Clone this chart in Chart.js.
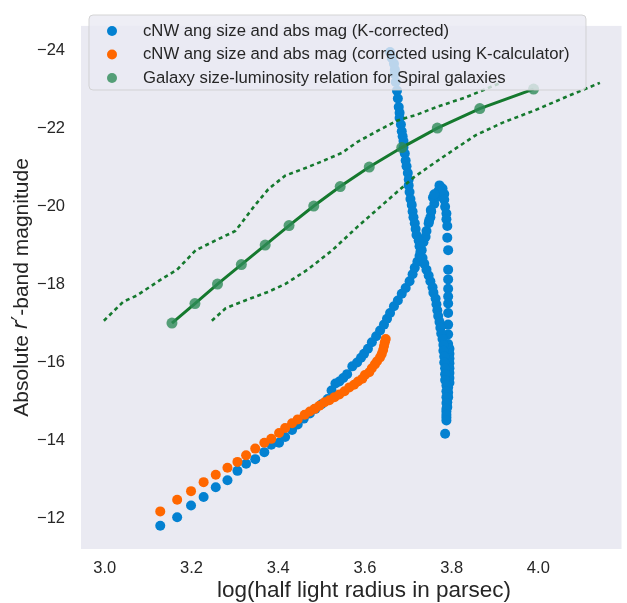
<!DOCTYPE html>
<html>
<head>
<meta charset="utf-8">
<script src="https://cdn.jsdelivr.net/npm/chart.js@4.4.0/dist/chart.umd.min.js"></script>
<style>
html, body { margin: 0; padding: 0; background: #fff; overflow: hidden; }
</style>
</head>
<body>
<canvas id="chart" width="627" height="603"></canvas>
<script>
const xTicks = [3.0, 3.2, 3.4, 3.6, 3.8, 4.0];
const yTicks = [-24, -22, -20, -18, -16, -14, -12];

// cNW ang size and abs mag (K-corrected)
const blueLogR = [
    3.128, 3.167, 3.199, 3.228, 3.256, 3.283, 3.306, 3.326, 3.347, 3.368, 3.384, 3.402, 3.416, 3.432, 3.445,
    3.459, 3.473, 3.486, 3.500, 3.514, 3.523, 3.532, 3.541, 3.550, 3.559, 3.571, 3.582, 3.591, 3.598, 3.607,
    3.616, 3.626, 3.635, 3.644, 3.651, 3.658, 3.667, 3.676, 3.685, 3.694, 3.703, 3.710, 3.715, 3.721, 3.726,
    3.731, 3.735, 3.740, 3.742, 3.747, 3.751, 3.753, 3.760, 3.765, 3.769, 3.772, 3.779, 3.783, 3.783, 3.785,
    3.788, 3.788, 3.790, 3.790, 3.792, 3.792, 3.792, 3.792, 3.792, 3.792, 3.792, 3.792, 3.792, 3.792, 3.795,
    3.795, 3.795, 3.795, 3.795, 3.795, 3.795, 3.795, 3.792, 3.792, 3.792, 3.790, 3.790, 3.788, 3.788, 3.785,
    3.658, 3.662, 3.667, 3.669, 3.669, 3.671, 3.674, 3.676, 3.678, 3.680, 3.680, 3.683, 3.685, 3.687, 3.689,
    3.689, 3.692, 3.694, 3.696, 3.699, 3.701, 3.701, 3.703, 3.705, 3.708, 3.710, 3.712, 3.715, 3.717, 3.719,
    3.724, 3.726, 3.728, 3.733, 3.737, 3.742, 3.747, 3.751, 3.756, 3.758, 3.763, 3.765, 3.767, 3.769, 3.772,
    3.774, 3.776, 3.779, 3.781, 3.781, 3.783, 3.783, 3.785, 3.785, 3.785, 3.788, 3.788, 3.788, 3.788, 3.788,
    3.788, 3.788,
    3.757, 3.752, 3.760, 3.748
];
const blueMag = [
    -11.80, -12.02, -12.32, -12.54, -12.79, -12.97, -13.21, -13.39, -13.51, -13.69, -13.88, -13.93, -14.08, -14.26, -14.40,
    -14.55, -14.68, -14.80, -14.92, -15.05, -15.27, -15.45, -15.50, -15.59, -15.69, -15.89, -15.99, -16.11, -16.21, -16.34,
    -16.51, -16.66, -16.81, -16.96, -17.11, -17.26, -17.43, -17.58, -17.75, -17.90, -18.07, -18.25, -18.42, -18.57, -18.72,
    -18.87, -19.07, -19.21, -19.36, -19.56, -19.71, -19.86, -20.06, -20.23, -20.38, -20.53, -20.45, -20.31, -20.16, -19.98,
    -19.81, -19.66, -19.49, -19.19, -18.87, -18.37, -18.12, -17.88, -17.68, -17.50, -17.26, -16.96, -16.71, -16.46, -16.34,
    -16.21, -16.09, -15.97, -15.84, -15.72, -15.59, -15.47, -15.35, -15.22, -15.10, -14.97, -14.85, -14.73, -14.58, -14.16,
    -23.95, -23.80, -23.65, -23.50, -23.38, -23.18, -22.96, -22.76, -22.54, -22.39, -22.26, -22.09, -21.92, -21.79, -21.67,
    -21.50, -21.35, -21.17, -21.02, -20.85, -20.68, -20.53, -20.36, -20.18, -20.03, -19.86, -19.71, -19.56, -19.41, -19.26,
    -19.12, -18.97, -18.82, -18.67, -18.52, -18.37, -18.22, -18.07, -17.92, -17.78, -17.63, -17.48, -17.33, -17.18, -17.03,
    -16.88, -16.73, -16.59, -16.44, -16.29, -16.14, -15.99, -15.84, -15.69, -15.54, -15.40, -15.25, -15.10, -14.95, -14.80,
    -14.65, -14.50,
    -20.22, -19.90, -20.30, -19.62
];

// cNW ang size and abs mag (corrected using K-calculator)
const orangeLogR = [
    3.128, 3.167, 3.199, 3.228, 3.256, 3.283, 3.306, 3.326, 3.347, 3.368, 3.384, 3.402, 3.416, 3.432, 3.445,
    3.461, 3.473, 3.484, 3.495, 3.507, 3.518, 3.530, 3.541, 3.553, 3.564, 3.575, 3.584, 3.594, 3.600, 3.610,
    3.616, 3.623, 3.628, 3.635, 3.639, 3.642, 3.644, 3.646, 3.648
];
const orangeMag = [
    -12.17, -12.47, -12.69, -12.92, -13.11, -13.29, -13.44, -13.61, -13.78, -13.93, -14.03, -14.18, -14.31, -14.43, -14.53,
    -14.65, -14.73, -14.80, -14.88, -14.97, -15.02, -15.10, -15.17, -15.25, -15.35, -15.42, -15.50, -15.57, -15.67, -15.74,
    -15.84, -15.94, -16.02, -16.12, -16.21, -16.31, -16.41, -16.51, -16.59
];

// size-luminosity relation for spirals and its bounds
const relLogR = [3.155, 3.208, 3.260, 3.315, 3.370, 3.425, 3.482, 3.543, 3.610, 3.685, 3.767, 3.865, 3.989];
const relMag = [-17.0, -17.5, -18.0, -18.5, -19.0, -19.5, -20.0, -20.5, -21.0, -21.5, -22.0, -22.5, -23.0];

const upperLogR = [2.998, 3.043, 3.073, 3.103, 3.130, 3.167, 3.210, 3.256, 3.301, 3.315, 3.347, 3.377, 3.416,
    3.457, 3.502, 3.548, 3.582, 3.628, 3.674, 3.719, 3.765, 3.833, 3.913];
const upperMag = [-17.06, -17.55, -17.70, -17.92, -18.12, -18.37, -18.87, -19.12, -19.36, -19.56, -20.03, -20.43, -20.78,
    -20.95, -21.15, -21.37, -21.64, -21.92, -22.19, -22.34, -22.54, -22.79, -23.16];

const lowerLogR = [3.247, 3.279, 3.324, 3.377, 3.416, 3.468, 3.525, 3.582, 3.628, 3.674, 3.712, 3.749, 3.799,
    3.856, 3.918, 3.993, 4.062, 4.142];
const lowerMag = [-17.06, -17.38, -17.58, -17.80, -18.00, -18.37, -18.87, -19.46, -19.91, -20.36, -20.73, -21.02, -21.40,
    -21.82, -22.14, -22.46, -22.79, -23.16];

const BLUE = '#0381d1';
const ORANGE = '#ff6700';
const LINE_GREEN = '#15792e';
const DOT_GREEN = 'rgba(46,139,87,0.8)';
const TEXT = '#262626';
const FONT = "'Liberation Sans', Arial, sans-serif";

const legendItems = [
    { label: 'cNW ang size and abs mag (K-corrected)', color: BLUE },
    { label: 'cNW ang size and abs mag (corrected using K-calculator)', color: ORANGE },
    { label: 'Galaxy size-luminosity relation for Spiral galaxies', color: DOT_GREEN }
];

function toPoints(xs, ys) {
    return xs.map((x, i) => ({ x, y: ys[i] }));
}

const backgroundPlugin = {
    id: 'axesBackground',
    beforeDraw(chart) {
        const { ctx, chartArea: a } = chart;
        ctx.save();
        ctx.fillStyle = '#eaeaf2';
        ctx.fillRect(a.left, a.top, a.right - a.left, a.bottom - a.top);
        ctx.restore();
    }
};

const overlayPlugin = {
    id: 'overlay',
    afterDraw(chart) {
        const { ctx, chartArea: a } = chart;
        ctx.save();

        // legend box, drawn over the data like matplotlib does
        const bx = 89, by = 15, bw = 497, bh = 75, r = 4;
        ctx.beginPath();
        ctx.roundRect(bx, by, bw, bh, r);
        ctx.fillStyle = 'rgba(234,234,242,0.8)';
        ctx.fill();
        ctx.strokeStyle = 'rgba(204,204,204,0.8)';
        ctx.lineWidth = 1;
        ctx.stroke();

        ctx.font = '16.7px ' + FONT;
        ctx.textBaseline = 'middle';
        ctx.textAlign = 'left';
        legendItems.forEach((item, i) => {
            const cy = 31 + i * 23.5;
            ctx.beginPath();
            ctx.arc(112, cy, 5, 0, Math.PI * 2);
            ctx.fillStyle = item.color;
            ctx.fill();
            ctx.fillStyle = TEXT;
            ctx.fillText(item.label, 143, cy);
        });

        // x axis title (the axes run a little past the right edge of the picture)
        ctx.font = '22.5px ' + FONT;
        ctx.textAlign = 'center';
        ctx.fillStyle = TEXT;
        ctx.fillText('log(half light radius in parsec)', 364, 591);

        // y axis title with italic r'
        const parts = [
            { t: 'Absolute ', f: '21px ' + FONT },
            { t: 'r', f: 'italic 21px "DejaVu Sans"' },
            { t: '\u2032', f: '21px "DejaVu Sans"' },
            { t: '-band magnitude', f: '21px ' + FONT }
        ];
        let total = 0;
        parts.forEach(p => { ctx.font = p.f; p.w = ctx.measureText(p.t).width; total += p.w; });
        ctx.translate(22, (a.top + a.bottom) / 2);
        ctx.rotate(-Math.PI / 2);
        ctx.textAlign = 'left';
        let px = -total / 2;
        parts.forEach(p => { ctx.font = p.f; ctx.fillText(p.t, px, 0); px += p.w; });

        ctx.restore();
    }
};

new Chart(document.getElementById('chart'), {
    type: 'scatter',
    data: {
        datasets: [
            {
                label: 'Galaxy size-luminosity relation for Spiral galaxies',
                data: toPoints(relLogR, relMag),
                showLine: true,
                borderColor: LINE_GREEN,
                borderWidth: 3,
                pointRadius: 5.5,
                pointBackgroundColor: DOT_GREEN,
                pointBorderWidth: 0,
                order: 0
            },
            {
                label: 'upper bound',
                data: toPoints(upperLogR, upperMag),
                showLine: true,
                borderColor: LINE_GREEN,
                borderWidth: 2.6,
                borderDash: [4, 3.5],
                pointRadius: 0,
                order: 1
            },
            {
                label: 'lower bound',
                data: toPoints(lowerLogR, lowerMag),
                showLine: true,
                borderColor: LINE_GREEN,
                borderWidth: 2.6,
                borderDash: [4, 3.5],
                pointRadius: 0,
                order: 1
            },
            {
                label: 'cNW ang size and abs mag (corrected using K-calculator)',
                data: toPoints(orangeLogR, orangeMag),
                pointRadius: 5,
                backgroundColor: ORANGE,
                borderWidth: 0,
                order: 2
            },
            {
                label: 'cNW ang size and abs mag (K-corrected)',
                data: toPoints(blueLogR, blueMag),
                pointRadius: 5,
                backgroundColor: BLUE,
                borderWidth: 0,
                order: 3
            }
        ]
    },
    options: {
        responsive: false,
        animation: false,
        devicePixelRatio: 1,
        layout: { padding: { top: 8, right: 0, bottom: 0, left: 0 } },
        plugins: { legend: { display: false }, tooltip: { enabled: false } },
        scales: {
            x: {
                type: 'linear',
                min: 2.9452,
                max: 4.1918,
                grid: { display: false, drawTicks: false },
                border: { display: false },
                ticks: {
                    padding: 10,
                    color: TEXT,
                    font: { family: FONT, size: 16.5 },
                    callback: v => v.toFixed(1)
                },
                afterBuildTicks: s => { s.ticks = xTicks.map(v => ({ value: v })); },
                afterFit: s => { s.height = 54; }
            },
            y: {
                type: 'linear',
                reverse: true,
                min: -24.62,
                max: -11.206,
                grid: { display: false, drawTicks: false },
                border: { display: false },
                ticks: {
                    padding: 16,
                    color: TEXT,
                    font: { family: FONT, size: 16.5 },
                    callback: v => (v < 0 ? '\u2212' : '') + Math.abs(v)
                },
                afterBuildTicks: s => { s.ticks = yTicks.map(v => ({ value: v })); },
                afterFit: s => { s.width = 81; }
            }
        }
    },
    plugins: [backgroundPlugin, overlayPlugin]
});
</script>
</body>
</html>
